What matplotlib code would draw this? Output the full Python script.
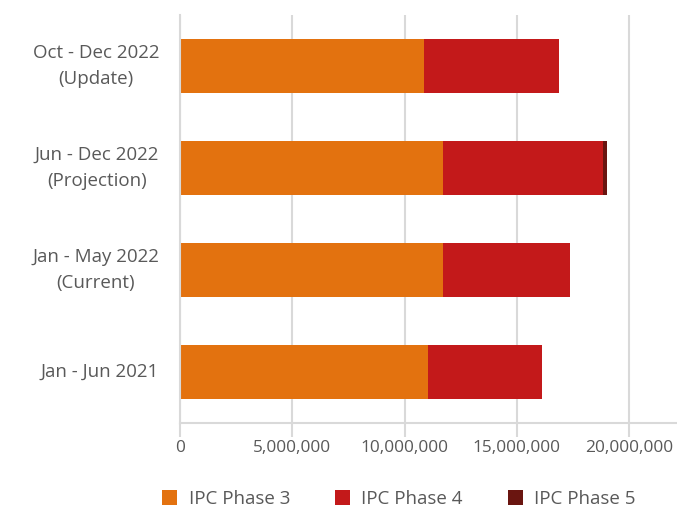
import matplotlib.pyplot as plt
import numpy as np

plt.rcParams['font.family'] = ['Open Sans', 'DejaVu Sans']

# periods, top to bottom as in the chart
periods = ['Oct - Dec 2022\n(Update)', 'Jun - Dec 2022\n(Projection)',
           'Jan - May 2022\n(Current)', 'Jan - Jun 2021']
phase3 = [10850000, 11710000, 11710000, 11060000]
phase4 = [6040000, 7140000, 5640000, 5040000]
phase5 = [0, 160000, 0, 40000]

c3, c4, c5 = '#E3720F', '#C3191A', '#6A1510'
grey = '#D9D9D9'
txt = '#595959'

fig = plt.figure(figsize=(6.77, 5.08), dpi=100)
ax = fig.add_axes([180 / 677, 1 - 423 / 508, 1 - 180 / 677, 408 / 508])

y = np.arange(len(periods))[::-1]
p3 = np.array(phase3)
p4 = np.array(phase4)
p5 = np.array(phase5)
h = 0.52
ax.barh(y, p3, height=h, color=c3, label='IPC Phase 3')
ax.barh(y, p4, left=p3, height=h, color=c4, label='IPC Phase 4')
ax.barh(y, p5, left=p3 + p4, height=h, color=c5, label='IPC Phase 5')

ax.set_ylim(-0.5, len(periods) - 0.5)
ax.set_xlim(0, 22130000)
ax.set_yticks(y)
ax.set_yticklabels(periods, fontsize=13.5, color=txt, linespacing=1.55,
                   multialignment='center', va='center')
ax.set_xticks(np.arange(0, 20000001, 5000000))
ax.set_xticklabels([f'{v:,}' for v in range(0, 20000001, 5000000)],
                   fontsize=12.4, color=txt)
ax.tick_params(axis='y', length=0, pad=15)
ax.tick_params(axis='x', length=10, width=1.5, color=grey, pad=2)

ax.grid(axis='x', color=grey, linewidth=1.5)
ax.set_axisbelow(True)
for s in ['top', 'right']:
    ax.spines[s].set_visible(False)
for s in ['left', 'bottom']:
    ax.spines[s].set_color(grey)
    ax.spines[s].set_linewidth(1.5)

fig.legend(loc='center', bbox_to_anchor=(399 / 677, 1 - 499 / 508),
           ncol=3, frameon=False, fontsize=13.5, labelcolor=txt,
           handlelength=0.8, handleheight=0.8, handletextpad=0.6,
           columnspacing=2.4)

fig.savefig('out.png', dpi=100)
